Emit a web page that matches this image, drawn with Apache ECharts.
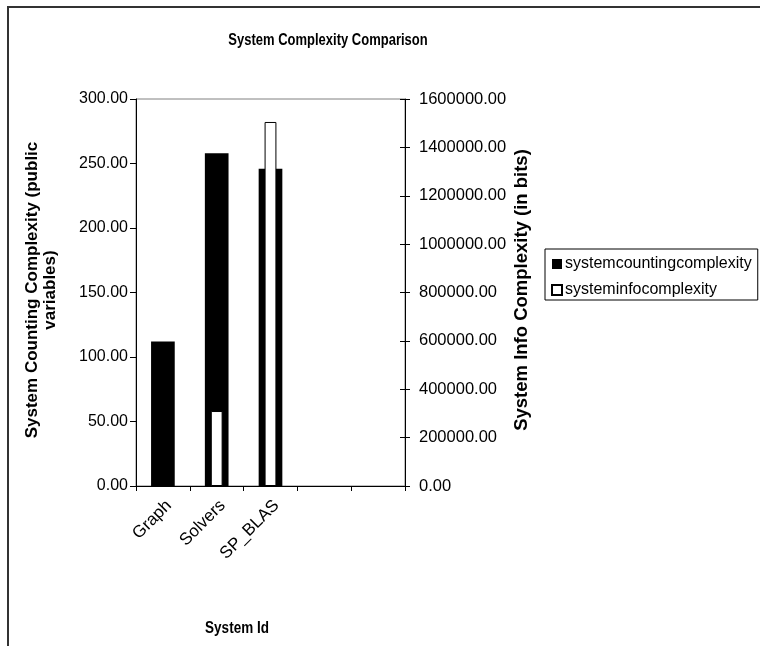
<!DOCTYPE html>
<html>
<head>
<meta charset="utf-8">
<script src="https://cdn.jsdelivr.net/npm/echarts@6/dist/echarts.min.js"></script>
<style>
  html, body { margin: 0; padding: 0; background: #fff; }
  #chart { width: 760px; height: 646px; }
</style>
</head>
<body>
<div id="chart"></div>
<script>
// System ids on the category axis (two trailing empty slots)
const systems = ['Graph', 'Solvers', 'SP_BLAS', '', ''];
// Counting complexity (public variables), left axis
const countingComplexity = [112, 258, 246, null, null];
// Information complexity (bits), right axis
const infoComplexity = [0, 310000, 1505000, null, null];
// Axis tick settings
const leftTicks = { min: 0, max: 300, interval: 50 };
const rightTicks = { min: 0, max: 1600000, interval: 200000 };

const FONT = 'Liberation Sans, Arial, sans-serif';
const chart = echarts.init(document.getElementById('chart'), null, { renderer: 'canvas' });

const fmt = v => v.toFixed(2);

chart.setOption({
  backgroundColor: '#ffffff',
  animation: false,
  grid: {
    left: 136, right: 355, top: 99, bottom: 160,
    show: true, borderColor: '#808080', borderWidth: 1, backgroundColor: 'transparent'
  },
  legend: {
    orient: 'vertical',
    left: 545, top: 249,
    icon: 'rect', itemWidth: 10, itemHeight: 10, itemGap: 10,
    padding: [7, 6, 2, 6],
    borderColor: '#000', borderWidth: 1,
    textStyle: { fontFamily: FONT, fontSize: 16, color: '#000', padding: [0, 0, 0, -2] },
    data: ['systemcountingcomplexity', 'systeminfocomplexity']
  },
  xAxis: [
    {
      type: 'category', data: systems, gridIndex: 0,
      axisLine: { show: true, lineStyle: { color: '#000', width: 1 } },
      axisTick: { show: true, alignWithLabel: false, interval: 0, length: 5, lineStyle: { color: '#000' } },
      axisLabel: { interval: 0, rotate: 45, fontFamily: FONT, fontSize: 17, color: '#000', margin: 11, verticalAlign: 'top' },
      splitLine: { show: false }
    },
    {
      type: 'category', data: systems, gridIndex: 0, show: false
    }
  ],
  yAxis: [
    {
      type: 'value', position: 'left',
      min: leftTicks.min, max: leftTicks.max, interval: leftTicks.interval,
      axisLine: { show: true, lineStyle: { color: '#000', width: 1 } },
      axisTick: { show: true, length: 6, lineStyle: { color: '#000' } },
      axisLabel: { formatter: fmt, fontFamily: FONT, fontSize: 16, color: '#000', margin: 8 },
      splitLine: { show: false }
    },
    {
      type: 'value', position: 'right',
      min: rightTicks.min, max: rightTicks.max, interval: rightTicks.interval,
      axisLine: { show: true, lineStyle: { color: '#000', width: 1 } },
      axisTick: { show: true, length: 5, lineStyle: { color: '#000' } },
      axisLabel: { formatter: fmt, fontFamily: FONT, fontSize: 16.5, color: '#000', margin: 14 },
      splitLine: { show: false }
    },
    {
      // inner half of the right-axis cross ticks
      type: 'value', position: 'right',
      min: rightTicks.min, max: rightTicks.max, interval: rightTicks.interval,
      axisLine: { show: false },
      axisTick: { show: true, inside: true, length: 5, lineStyle: { color: '#000' } },
      axisLabel: { show: false },
      splitLine: { show: false }
    }
  ],
  series: [
    {
      name: 'systemcountingcomplexity', type: 'bar',
      xAxisIndex: 0, yAxisIndex: 0,
      data: countingComplexity, barWidth: '44%',
      itemStyle: { color: '#000000' }
    },
    {
      name: 'systeminfocomplexity', type: 'bar',
      xAxisIndex: 1, yAxisIndex: 1,
      data: infoComplexity, barWidth: '22%',
      itemStyle: { color: '#ffffff', borderColor: '#000000', borderWidth: 1 }
    }
  ],
  graphic: [
    {
      type: 'rect', silent: true, z: -1,
      shape: { x: 8, y: 7, width: 900, height: 800 },
      style: { fill: 'none', stroke: '#333', lineWidth: 2 }
    },
    {
      type: 'text', x: 328, y: 40, scaleY: 1.3,
      style: { text: 'System Complexity Comparison', font: 'bold 13px ' + FONT, fill: '#000', align: 'center', verticalAlign: 'middle' }
    },
    {
      type: 'text', x: 41, y: 290, rotation: Math.PI / 2,
      style: { text: 'System Counting Complexity (public\nvariables)', font: 'bold 17px ' + FONT, fill: '#000', align: 'center', verticalAlign: 'middle', lineHeight: 18 }
    },
    {
      type: 'text', x: 522, y: 290, rotation: Math.PI / 2,
      style: { text: 'System Info Complexity (in bits)', font: 'bold 18.5px ' + FONT, fill: '#000', align: 'center', verticalAlign: 'middle' }
    },
    {
      type: 'text', x: 237, y: 628, scaleY: 1.25,
      style: { text: 'System Id', font: 'bold 13.5px ' + FONT, fill: '#000', align: 'center', verticalAlign: 'middle' }
    }
  ]
});
</script>
</body>
</html>
